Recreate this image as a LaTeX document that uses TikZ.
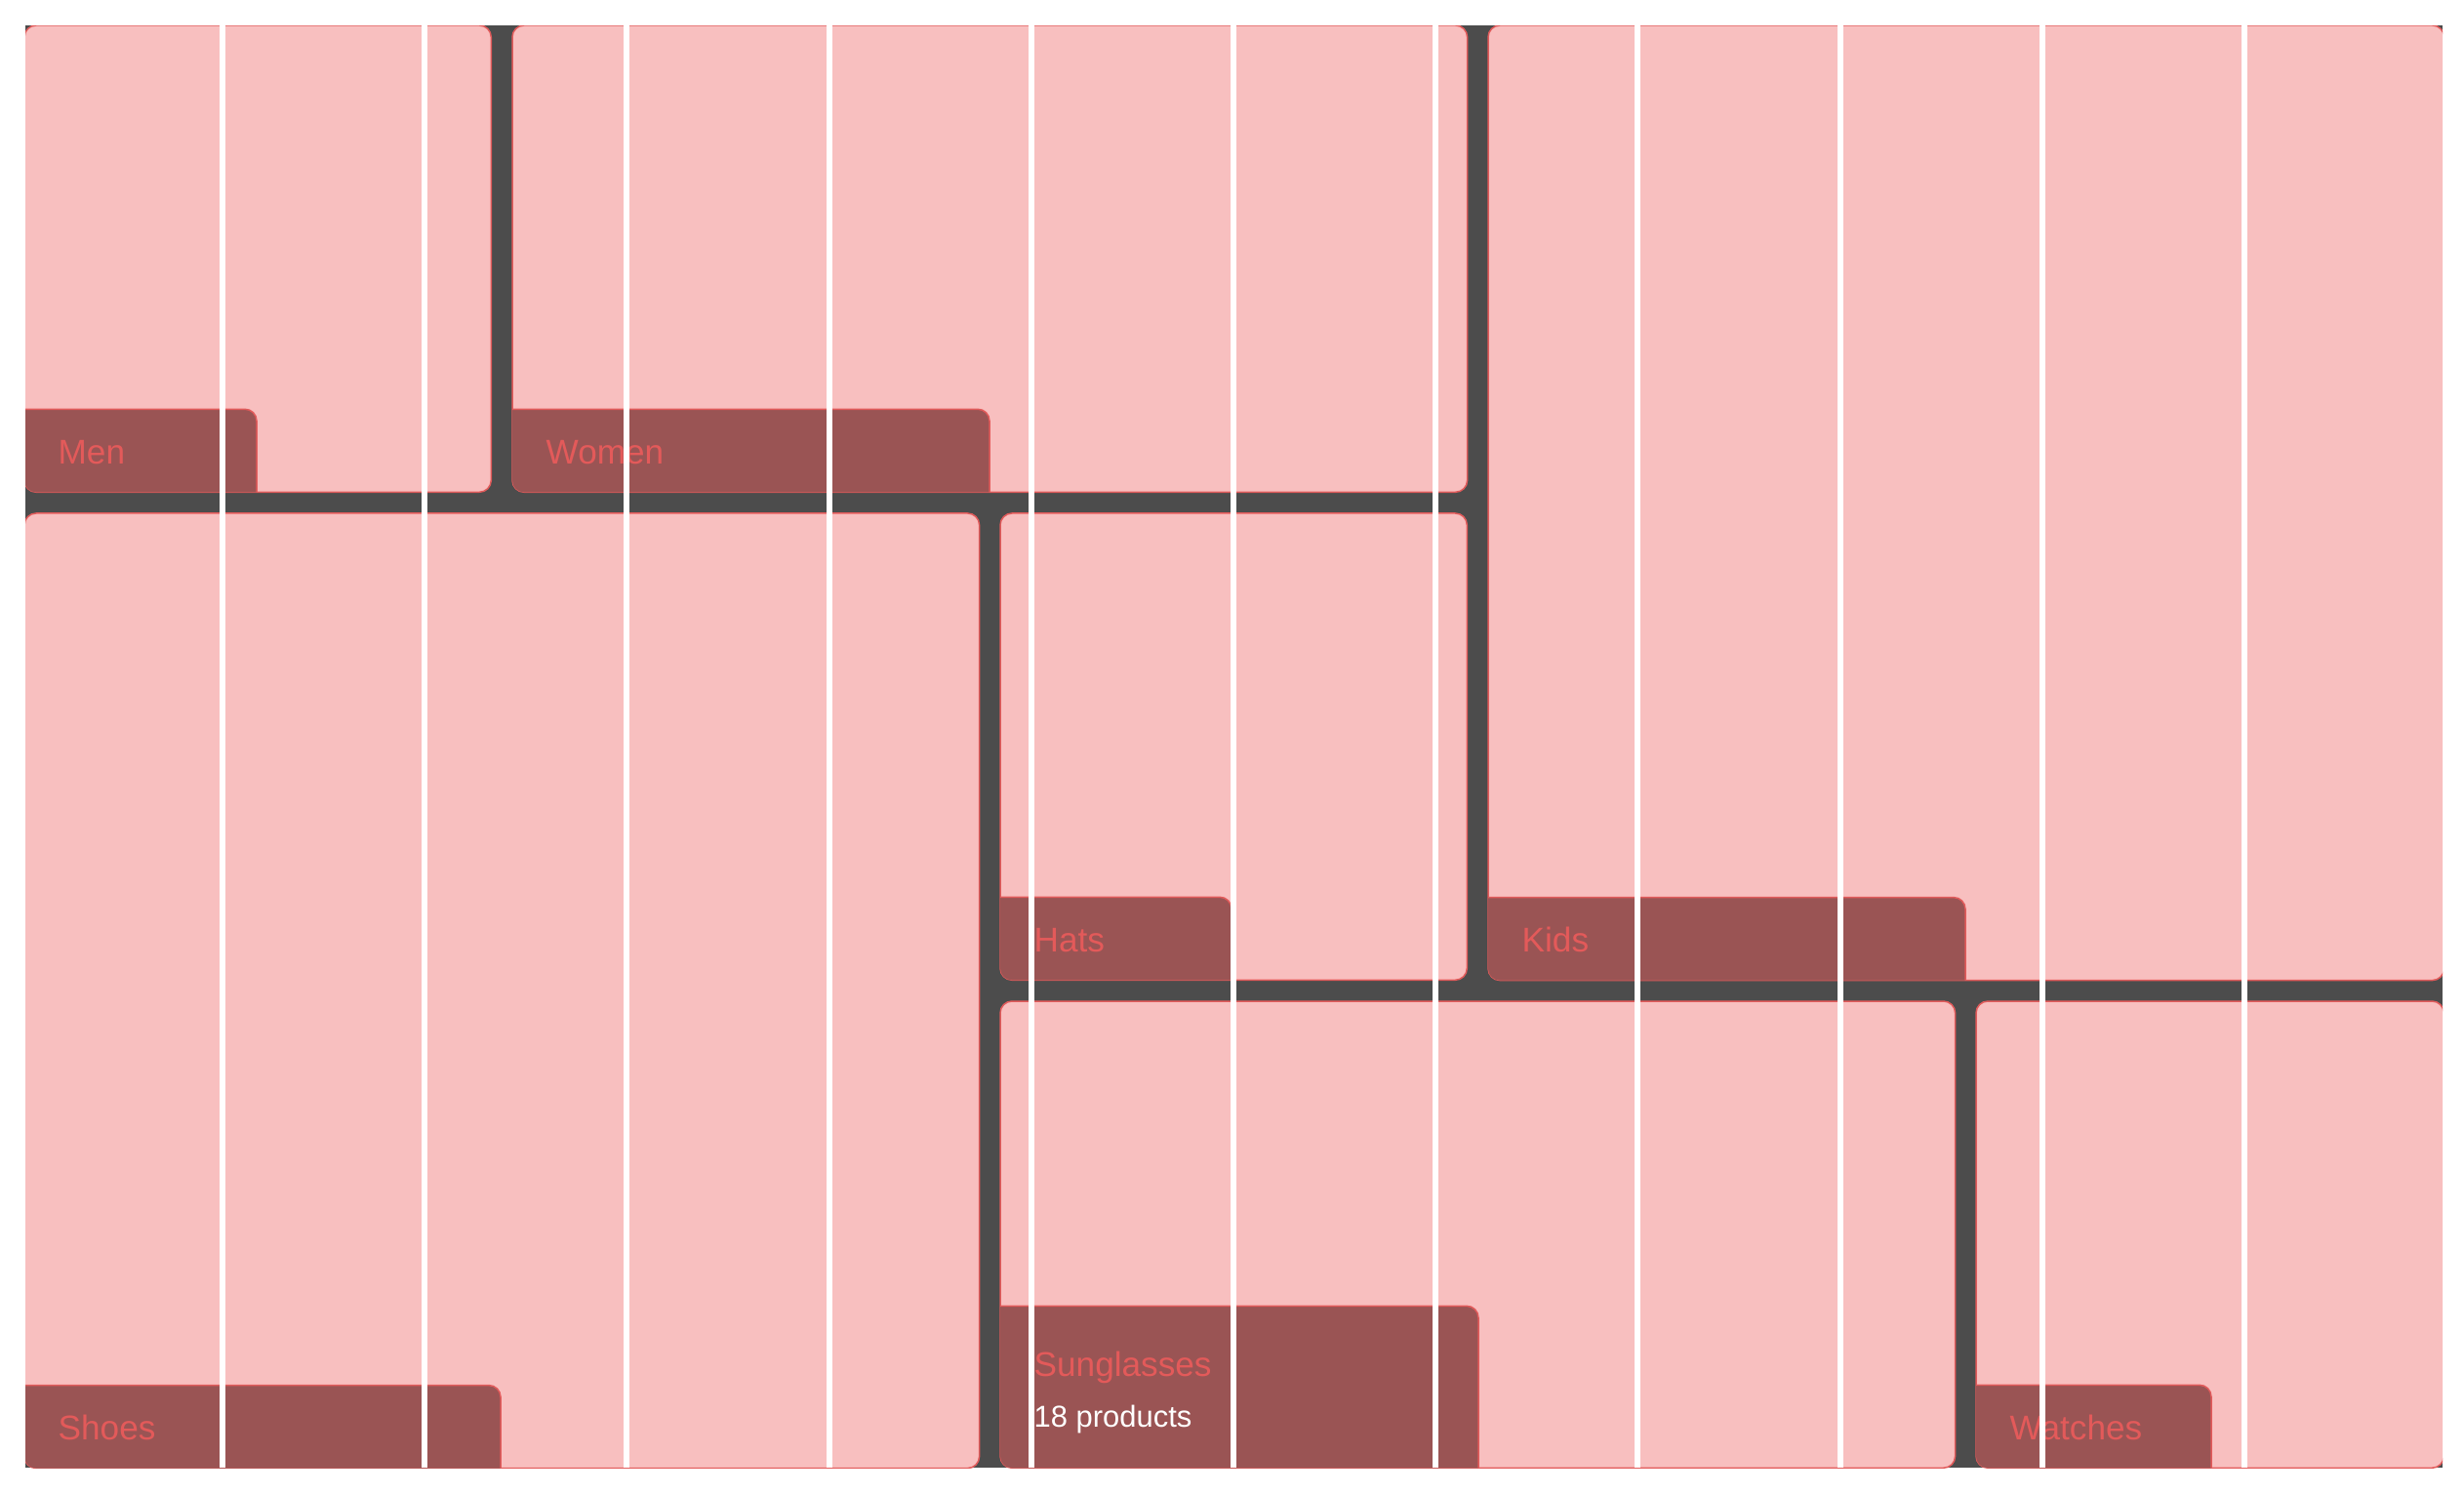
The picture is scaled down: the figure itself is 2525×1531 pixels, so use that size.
\documentclass[tikz,border=0pt]{standalone}
\usepackage{fontspec}
\setmainfont{Liberation Sans}
\usetikzlibrary{
    positioning,
    calc
}
\definecolor{TileRosa}{HTML}{F8BFBF}
\definecolor{TileBorda}{HTML}{E25B5B}
\definecolor{RotuloFundo}{HTML}{9A5454}
\definecolor{RotuloTexto}{HTML}{E35A5A}
\definecolor{Fenda}{HTML}{4C4C4C}

\tikzset{
    tile/.style={
        fill=TileRosa,
        draw=TileBorda,
        line width=0.015cm,
        rounded corners=0.12cm,
        inner sep=0pt,
        outer sep=0pt,
        anchor=north west
    },
    rotulo/.style={
        fill=RotuloFundo,
        draw=TileBorda,
        line width=0.015cm,
        rounded corners=0.12cm
    },
    rotulotexto/.style={
        anchor=base west,
        inner sep=0pt,
        text=RotuloTexto,
        font=\fontsize{10}{12}\selectfont
    },
    contagem/.style={
        anchor=base west,
        inner sep=0pt,
        text=white,
        font=\fontsize{8.8}{10}\selectfont
    },
    grade/.style={draw=white, line width=0.06cm}
}

\begin{document}
\begin{tikzpicture}[x=0.01cm, y=-0.01cm]
    \useasboundingbox (0,0) rectangle (2525,1531);
    % tudo recortado pela area do mosaico
    \clip (26,27) rectangle (2503,1504);
    % fundo escuro entre os blocos
    \fill[Fenda] (25,26) rectangle (2503,1504);

    % nome/x/y/largura/altura/largura do rotulo/altura do rotulo/base do texto/texto
    \foreach \nome/\x/\y/\w/\h/\lw/\lh/\ty/\txt in {
        men/25/26/4.78/4.78/258/105/-29/Men,
        women/525/26/9.78/4.78/509/105/-29/Women,
        kids/1525/26/9.79/9.78/509/105/-29/Kids,
        shoes/25/526/9.78/9.78/508/105/-29/Shoes,
        hats/1025/526/4.78/4.78/257/105/-29/Hats,
        sunglasses/1025/1026/9.78/4.78/510/186/-94/Sunglasses,
        watches/2025/1026/4.79/4.78/261/105/-29/Watches}{
        \node[tile, minimum width=\w cm, minimum height=\h cm] (\nome) at (\x,\y) {};
        \begin{scope}
            \clip[rounded corners=0.12cm] (\nome.north west) rectangle (\nome.south east);
            \draw[rotulo] ($(\nome.south west)+(-20,20)$) rectangle ++(\lw,-\lh);
        \end{scope}
        \node[rotulotexto] (\nome-texto) at ($(\nome.south west)+(34,\ty)$) {\txt};
    }
    \node[contagem] (sunglasses-contagem) at ($(sunglasses.south west)+(34,-42)$) {18 products};

    % linhas da grade
    \foreach \k in {1,...,11}{
        \draw[grade] ({20.8+207.2*\k},26) -- ({20.8+207.2*\k},1504);
    }
\end{tikzpicture}
\end{document}
